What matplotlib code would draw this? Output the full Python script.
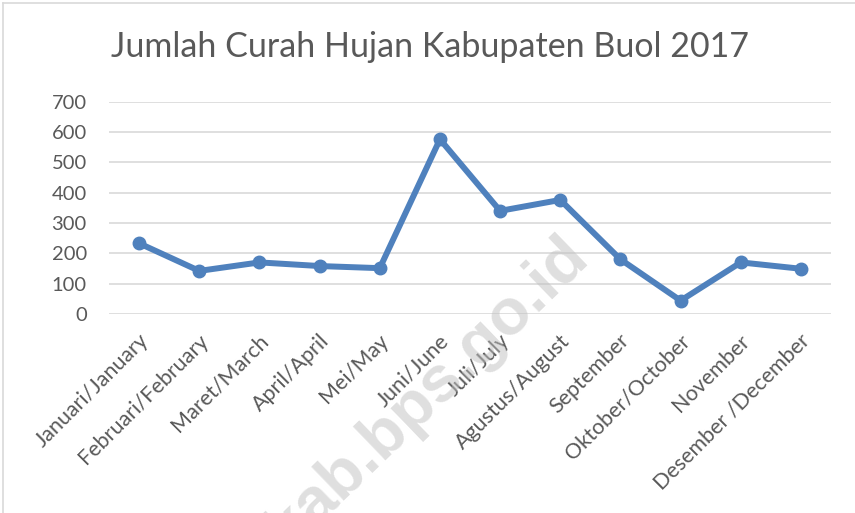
import matplotlib.pyplot as plt
import matplotlib.transforms as mtransforms
from matplotlib.lines import Line2D

months = ["Januari/January", "Februari/February", "Maret/March", "April/April",
          "Mei/May", "Juni/June", "Juli/July", "Agustus/August", "September",
          "Oktober/October", "November", "Desember /December"]
rainfall = [233, 142, 170, 158, 151, 576, 340, 376, 180, 44, 170, 149]
yticks = [0, 100, 200, 300, 400, 500, 600, 700]

plt.rcParams['font.family'] = ['Lato', 'DejaVu Sans']
gray = "#595959"

fig = plt.figure(figsize=(8.55, 5.13), dpi=100)
ax = fig.add_axes([0.1275, 0.388, 0.972 - 0.1275, 0.8018 - 0.388])

x = list(range(len(months)))
ax.plot(x, rainfall, color="#4F81BD", lw=4.3, marker="o", markersize=9,
        solid_joinstyle="round", zorder=3)

ax.set_xlim(-0.5, len(months) - 0.5)
ax.set_ylim(0, 700)
ax.set_yticks(yticks)
ax.set_yticklabels([str(v) for v in yticks], color=gray, fontsize=14.5)
ax.set_xticks(x)
ax.set_xticklabels(months, rotation=45, ha="right", va="center",
                   rotation_mode="anchor", color=gray, fontsize=15.5)
ax.tick_params(axis="both", length=0)
ax.tick_params(axis="y", pad=16)
ax.tick_params(axis="x", pad=17)
# nudge rotated labels to the right like Excel does
shift = mtransforms.ScaledTranslation(6 / 100, 0, fig.dpi_scale_trans)
for lbl in ax.get_xticklabels():
    lbl.set_transform(lbl.get_transform() + shift)
ax.grid(axis="y", color="#d9d9d9", lw=1.2)
ax.set_axisbelow(True)
for s in ax.spines.values():
    s.set_visible(False)

fig.text(0.503, 1 - 47 / 513, "Jumlah Curah Hujan Kabupaten Buol 2017",
         ha="center", va="center", color=gray, fontsize=24.5)

# watermark
fig.text(378 / 855, 1 - 440 / 513, "buolkab.bps.go.id", rotation=44,
         ha="center", va="center", rotation_mode="anchor",
         fontsize=47, fontweight="bold", family="Liberation Sans",
         color="#c0c0c0", alpha=0.5, zorder=5)

# chart border
fig.add_artist(Line2D([3 / 855, 3 / 855], [0, 1 - 3 / 513], color="#d9d9d9", lw=1.2))
fig.add_artist(Line2D([3 / 855, 1], [1 - 3 / 513, 1 - 3 / 513], color="#d9d9d9", lw=1.2))

plt.savefig("out.png", dpi=100)
